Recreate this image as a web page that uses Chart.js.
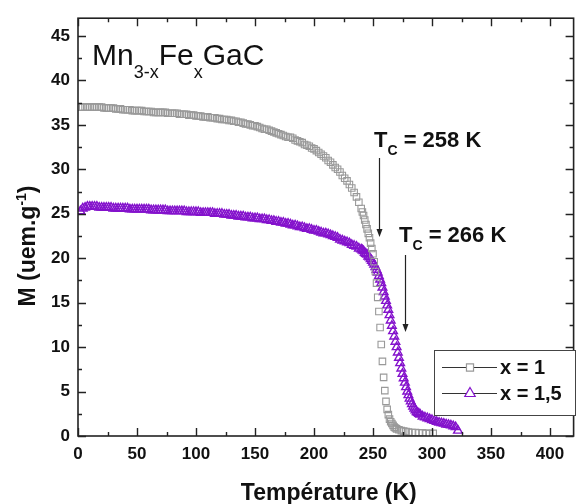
<!DOCTYPE html>
<html>
<head>
<meta charset="utf-8">
<script src="https://cdn.jsdelivr.net/npm/chart.js@4.4.0/dist/chart.umd.min.js"></script>
<style>
  body { margin: 0; background: #fff; }
  #wrap { width: 580px; height: 504px; }
</style>
</head>
<body>
<div id="wrap"><canvas id="chart" width="580" height="504"></canvas></div>
<script>
// axis ticks
const xTicks = [0, 50, 100, 150, 200, 250, 300, 350, 400];
const yTicks = [0, 5, 10, 15, 20, 25, 30, 35, 40, 45];

// x = 1 (grey squares), temperature in K / magnetisation in uem.g-1
const tempX1 = [
  2, 4, 6, 8, 10, 12, 14, 16, 18, 20, 22, 24, 26, 28, 30, 32, 34, 36, 38, 40,
  42, 44, 46, 48, 50, 52, 54, 56, 58, 60, 62, 64, 66, 68, 70, 72, 74, 76, 78, 80,
  82, 84, 86, 88, 90, 92, 94, 96, 98, 100, 102, 104, 106, 108, 110, 112, 114, 116, 118, 120,
  122, 124, 126, 128, 130, 132, 134, 136, 138, 140, 142, 144, 146, 148, 150, 152, 154, 156, 158, 160,
  162, 164, 166, 168, 170, 172, 174, 176, 178, 180, 182, 184, 186, 188, 190, 192, 194, 196, 198, 200,
  202, 204, 206, 208, 210, 212, 214, 216, 218, 220, 222, 224, 226, 228, 230, 232, 234, 236, 238, 240,
  241, 242, 243, 244, 245, 246, 247, 248, 249, 250, 251, 252, 253, 254, 255, 256, 257, 258, 259, 260,
  261, 262, 263, 264, 265, 266, 267, 268, 269, 270,
  272, 274, 276, 278, 280, 283, 286, 289, 292, 295, 298, 301
];
const magX1 = [
  37.0, 37.0, 37.0, 37.0, 37.0, 37.0, 37.0, 37.0, 37.0, 37.0, 36.9, 36.9, 36.9, 36.9, 36.9, 36.8, 36.8, 36.8, 36.7, 36.7,
  36.7, 36.7, 36.6, 36.6, 36.6, 36.6, 36.6, 36.5, 36.5, 36.5, 36.5, 36.4, 36.4, 36.4, 36.4, 36.4, 36.4, 36.3, 36.3, 36.3,
  36.3, 36.3, 36.2, 36.2, 36.2, 36.2, 36.1, 36.1, 36.1, 36.0, 36.0, 36.0, 35.9, 35.9, 35.9, 35.8, 35.8, 35.8, 35.7, 35.7,
  35.6, 35.6, 35.6, 35.5, 35.5, 35.4, 35.4, 35.3, 35.3, 35.2, 35.1, 35.1, 35.0, 34.9, 34.9, 34.8, 34.7, 34.6, 34.5, 34.5,
  34.4, 34.3, 34.2, 34.1, 34.0, 33.9, 33.8, 33.7, 33.6, 33.6, 33.5, 33.3, 33.2, 33.1, 33.0, 32.8, 32.7, 32.6, 32.4, 32.3,
  32.1, 31.9, 31.7, 31.5, 31.3, 31.0, 30.8, 30.5, 30.2, 30.0, 29.7, 29.3, 29.0, 28.7, 28.3, 27.9, 27.4, 26.9, 26.3, 25.6,
  25.2, 24.8, 24.3, 23.8, 23.3, 22.8, 22.3, 21.7, 21.1, 20.5, 19.6, 18.5, 17.2, 15.6, 14.0, 12.2, 10.3, 8.4, 6.6, 5.1,
  3.9, 3.0, 2.4, 1.9, 1.6, 1.4, 1.2, 1.0, 0.9, 0.8,
  0.7, 0.6, 0.55, 0.5, 0.45, 0.4, 0.4, 0.35, 0.35, 0.3, 0.3, 0.3
];

// x = 1,5 (purple triangles)
const tempX15 = [
  2, 4, 6, 8, 10, 12, 14, 16, 18, 20, 22, 24, 26, 28, 30, 32, 34, 36, 38, 40,
  42, 44, 46, 48, 50, 52, 54, 56, 58, 60, 62, 64, 66, 68, 70, 72, 74, 76, 78, 80,
  82, 84, 86, 88, 90, 92, 94, 96, 98, 100, 102, 104, 106, 108, 110, 112, 114, 116, 118, 120,
  122, 124, 126, 128, 130, 132, 134, 136, 138, 140, 142, 144, 146, 148, 150, 152, 154, 156, 158, 160,
  162, 164, 166, 168, 170, 172, 174, 176, 178, 180, 182, 184, 186, 188, 190, 192, 194, 196, 198, 200,
  202, 204, 206, 208, 210, 212, 214, 216, 218, 220, 222, 224, 226, 228, 230, 232, 234, 236, 238, 240,
  241, 242, 243, 244, 245, 246, 247, 248, 249, 250, 251, 252, 253, 254, 255, 256, 257, 258, 259, 260,
  261, 262, 263, 264, 265, 266, 267, 268, 269, 270, 271, 272, 273, 274, 275, 276, 277, 278, 279, 280,
  281, 282, 283, 284, 285, 286, 287, 288, 289, 290,
  292, 294, 296, 298, 300, 302, 304, 306, 308, 310, 312, 314, 316, 318, 320, 322
];
const magX15 = [
  25.3, 25.6, 25.7, 25.8, 25.8, 25.8, 25.8, 25.8, 25.7, 25.7, 25.7, 25.7, 25.7, 25.7, 25.6, 25.6, 25.6, 25.6, 25.6, 25.6,
  25.6, 25.5, 25.5, 25.5, 25.5, 25.5, 25.5, 25.5, 25.5, 25.5, 25.4, 25.4, 25.4, 25.4, 25.4, 25.4, 25.4, 25.3, 25.3, 25.3,
  25.3, 25.3, 25.3, 25.3, 25.3, 25.2, 25.2, 25.2, 25.2, 25.2, 25.2, 25.1, 25.1, 25.1, 25.1, 25.1, 25.1, 25.0, 25.0, 25.0,
  25.0, 24.9, 24.9, 24.9, 24.8, 24.8, 24.8, 24.7, 24.7, 24.7, 24.6, 24.6, 24.6, 24.5, 24.5, 24.5, 24.4, 24.4, 24.4, 24.3,
  24.3, 24.2, 24.2, 24.1, 24.1, 24.0, 24.0, 23.9, 23.9, 23.8, 23.7, 23.7, 23.6, 23.5, 23.5, 23.4, 23.3, 23.3, 23.2, 23.1,
  23.1, 23.0, 22.9, 22.8, 22.8, 22.7, 22.6, 22.5, 22.4, 22.3, 22.1, 22.0, 21.9, 21.8, 21.7, 21.5, 21.4, 21.3, 21.1, 21.0,
  20.9, 20.8, 20.6, 20.5, 20.4, 20.2, 20.1, 19.9, 19.7, 19.5, 19.3, 19.0, 18.7, 18.4, 18.0, 17.6, 17.2, 16.7, 16.2, 15.7,
  15.2, 14.7, 14.2, 13.6, 13.0, 12.4, 11.8, 11.2, 10.6, 10.0, 9.4, 8.8, 8.2, 7.6, 7.0, 6.5, 6.0, 5.5, 5.0, 4.6,
  4.2, 3.9, 3.6, 3.3, 3.1, 2.9, 2.7, 2.6, 2.5, 2.4,
  2.2, 2.1, 2.0, 1.9, 1.8, 1.7, 1.6, 1.5, 1.45, 1.4, 1.3, 1.25, 1.2, 1.1, 1.0, 0.6
];

const FONT = "'Liberation Sans', Arial, sans-serif";
const GREY = '#999999';
const PURPLE = '#8412cc';

const toPoints = (t, m) => t.map((v, i) => ({ x: v, y: m[i] }));

// draw a row of text pieces, each with its own font and vertical offset
function textRuns(ctx, x, y, parts) {
  for (const [txt, font, dy] of parts) {
    ctx.font = font;
    ctx.fillText(txt, x, y + dy);
    x += ctx.measureText(txt).width;
  }
  return x;
}
function runsWidth(ctx, parts) {
  let w = 0;
  for (const [txt, font] of parts) { ctx.font = font; w += ctx.measureText(txt).width; }
  return w;
}
function arrowDown(ctx, x, y0, y1) {
  ctx.beginPath();
  ctx.moveTo(x, y0);
  ctx.lineTo(x, y1 - 6);
  ctx.stroke();
  ctx.beginPath();
  ctx.moveTo(x, y1);
  ctx.lineTo(x - 3, y1 - 8);
  ctx.lineTo(x + 3, y1 - 8);
  ctx.closePath();
  ctx.fill();
}

//frame, inward ticks, titles, notes and legend
const decor = {
  id: 'decor',
  afterDatasetsDraw(chart) {
    const { ctx, chartArea: a, scales: { x, y } } = chart;
    ctx.save();
    ctx.strokeStyle = '#222';
    ctx.lineWidth = 1.6;
    ctx.strokeRect(a.left, a.top, a.right - a.left, a.bottom - a.top);

    ctx.lineWidth = 1.4;
    ctx.beginPath();
    for (let v = 0; v <= x.max; v += 25) {
      const px = Math.round(x.getPixelForValue(v)) + 0.5;
      const len = v % 50 === 0 ? 8 : 4;
      ctx.moveTo(px, a.bottom); ctx.lineTo(px, a.bottom - len);
      ctx.moveTo(px, a.top); ctx.lineTo(px, a.top + len);
    }
    for (let v = 0; v <= y.max; v += 2.5) {
      const py = Math.round(y.getPixelForValue(v)) + 0.5;
      const len = v % 5 === 0 ? 8 : 4;
      ctx.moveTo(a.left, py); ctx.lineTo(a.left + len, py);
      ctx.moveTo(a.right, py); ctx.lineTo(a.right - len, py);
    }
    ctx.stroke();

    ctx.fillStyle = '#111';
    ctx.textBaseline = 'alphabetic';
    ctx.textAlign = 'left';

    // x title
    const xt = 'Température (K)';
    ctx.font = `bold 23px ${FONT}`;
    const xw = ctx.measureText(xt).width;
    ctx.fillText(xt, (a.left + a.right) / 2 - xw / 2 + 3, 500);

    // y title
    const yParts = [
      ['M (uem.g', `bold 23px ${FONT}`, 0],
      ['-1', `bold 14px ${FONT}`, -9],
      [')', `bold 23px ${FONT}`, 0]
    ];
    ctx.save();
    ctx.translate(35, 246);
    ctx.rotate(-Math.PI / 2);
    textRuns(ctx, -runsWidth(ctx, yParts) / 2, 0, yParts);
    ctx.restore();

    // compound name
    const big = `30px ${FONT}`, sub = `18px ${FONT}`;
    textRuns(ctx, 92, 65, [['Mn', big, 0], ['3-x', sub, 13], ['Fe', big, 0], ['x', sub, 13], ['GaC', big, 0]]);

    // Curie temperatures
    const bb = `bold 22px ${FONT}`, bs = `bold 14px ${FONT}`;
    textRuns(ctx, 374, 147, [['T', bb, 0], ['C', bs, 8], [' = 258 K', bb, 0]]);
    textRuns(ctx, 399, 242, [['T', bb, 0], ['C', bs, 8], [' = 266 K', bb, 0]]);
    ctx.strokeStyle = '#222';
    ctx.fillStyle = '#222';
    ctx.lineWidth = 1.2;
    arrowDown(ctx, 379.5, 158, 237);
    arrowDown(ctx, 405.5, 255, 332);

    // legend
    ctx.fillStyle = '#fff';
    ctx.fillRect(434, 350, 141, 65);
    ctx.strokeStyle = '#444';
    ctx.lineWidth = 1;
    ctx.strokeRect(434.5, 350.5, 141, 65);
    const rows = [
      { y: 367.5, label: 'x = 1', style: 'rect', color: GREY, r: 5, ty: 374 },
      { y: 393.5, label: 'x = 1,5', style: 'triangle', color: PURPLE, r: 6, ty: 400 }
    ];
    for (const row of rows) {
      ctx.strokeStyle = '#333';
      ctx.lineWidth = 1;
      ctx.beginPath();
      ctx.moveTo(442, row.y); ctx.lineTo(497, row.y);
      ctx.stroke();
      ctx.fillStyle = '#fff';
      ctx.strokeStyle = row.color;
      ctx.lineWidth = 1.2;
      Chart.helpers.drawPoint(ctx, { pointStyle: row.style, radius: row.r, borderWidth: 1.2, rotation: 0 }, 470, row.y);
      ctx.fillStyle = '#111';
      ctx.font = `bold 20px ${FONT}`;
      ctx.fillText(row.label, 500, row.ty);
    }
    ctx.restore();
  }
};

const tickFont = { family: FONT, size: 17, weight: 'bold' };

new Chart(document.getElementById('chart'), {
  type: 'scatter',
  plugins: [decor],
  data: {
    datasets: [
      {
        label: 'x = 1',
        data: toPoints(tempX1, magX1),
        pointStyle: 'rect',
        pointRadius: 4.6,
        borderWidth: 1.1,
        borderColor: GREY,
        backgroundColor: 'rgba(255,255,255,0)',
        showLine: false
      },
      {
        label: 'x = 1,5',
        data: toPoints(tempX15, magX15),
        pointStyle: 'triangle',
        pointRadius: 5,
        borderWidth: 1.4,
        borderColor: PURPLE,
        backgroundColor: 'rgba(255,255,255,0)',
        showLine: false
      }
    ]
  },
  options: {
    responsive: false,
    animation: false,
    layout: { padding: { top: 16, right: 1, left: 0, bottom: 0 } },
    plugins: {
      legend: { display: false },
      tooltip: { enabled: false }
    },
    scales: {
      x: {
        type: 'linear',
        min: 0,
        max: 420,
        grid: { display: false, drawTicks: false },
        border: { display: false },
        ticks: { font: tickFont, color: '#111', padding: 8, maxRotation: 0, autoSkip: false },
        afterBuildTicks: (s) => { s.ticks = xTicks.map(v => ({ value: v })); },
        afterFit: (s) => { s.height = 68; }
      },
      y: {
        type: 'linear',
        min: 0,
        max: 47,
        grid: { display: false, drawTicks: false },
        border: { display: false },
        ticks: { font: tickFont, color: '#111', padding: 8, autoSkip: false },
        afterBuildTicks: (s) => { s.ticks = yTicks.map(v => ({ value: v })); },
        afterFit: (s) => { s.width = 78; }
      }
    }
  }
});
</script>
</body>
</html>
